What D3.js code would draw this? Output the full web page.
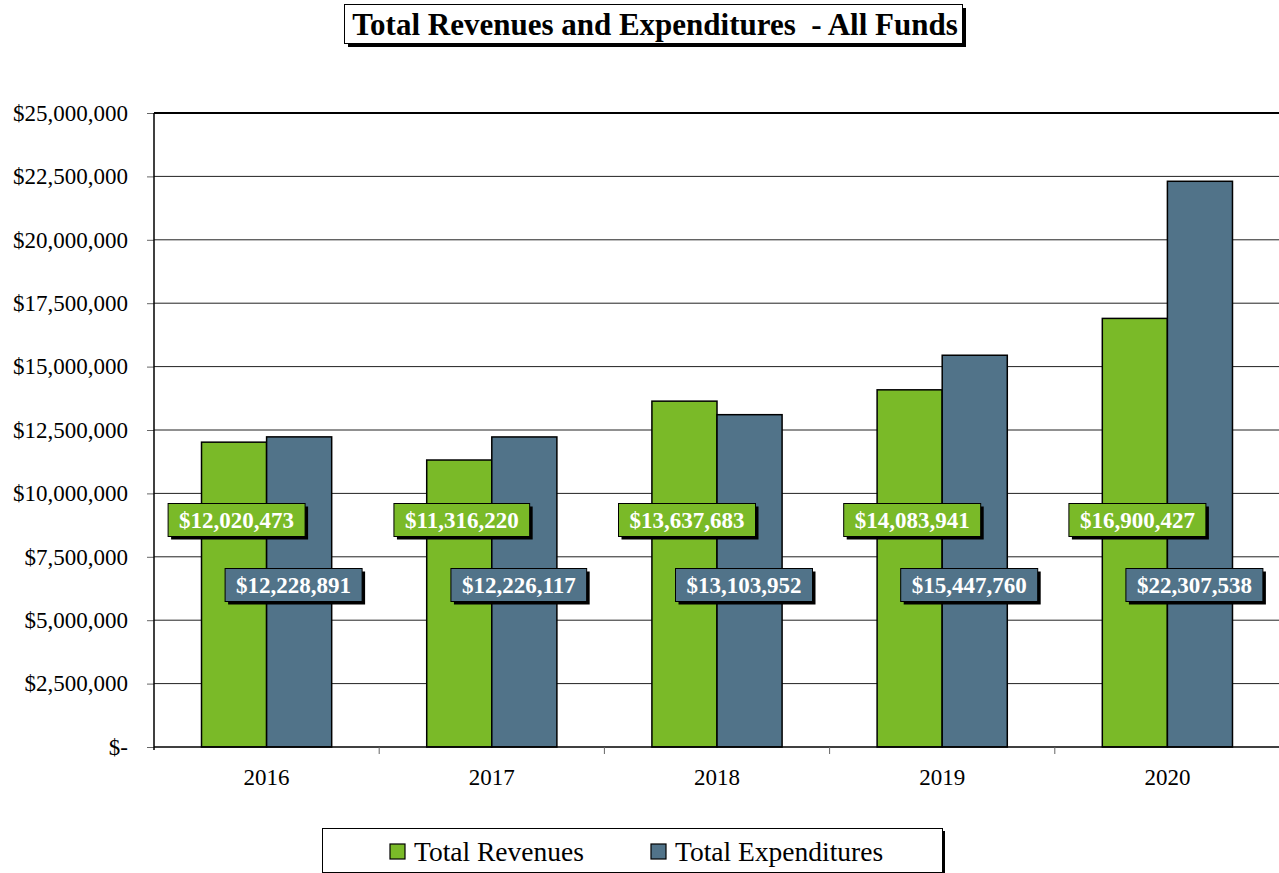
<!DOCTYPE html>
<html lang="en">
  <head>
    <meta charset="UTF-8" />
    <title>Total Revenues and Expenditures - All Funds</title>
    <script src="https://d3js.org/d3.v7.min.js"></script>
    <style>
      body { margin: 0; background: white; }
      svg { display: block; font-family: "Liberation Serif", "Times New Roman", serif; }
    </style>
  </head>
  <body>
    <div id="chart"></div>
    <script>
      // ----------- Data ----------- //
      var years = ["2016", "2017", "2018", "2019", "2020"];
      var revenues = [12020473, 11316220, 13637683, 14083941, 16900427];
      var expenditures = [12228891, 12226117, 13103952, 15447760, 22307538];
      var seriesNames = ["Total Revenues", "Total Expenditures"];
      var yTicks = [0, 2500000, 5000000, 7500000, 10000000, 12500000, 15000000, 17500000, 20000000, 22500000, 25000000];

      var colors = ["#7aba28", "#517389"];

      // ----------- Layout ----------- //
      var width = 1279, height = 873;
      var plotLeft = 154, plotRight = 1280, plotTop = 113, plotBottom = 747;

      var svg = d3.select("#chart").append("svg")
        .attr("width", width)
        .attr("height", height);

      var x = d3.scaleBand().domain(years).range([plotLeft, plotRight]).paddingInner(0).paddingOuter(0);
      var y = d3.scaleLinear().domain([0, 25000000]).range([plotBottom, plotTop]);

      var fmt = d3.format(",");

      // ----------- Grid ----------- //
      svg.append("g").selectAll("line")
        .data(yTicks.slice(1))
        .enter().append("line")
        .attr("x1", plotLeft).attr("x2", plotRight)
        .attr("y1", d => y(d)).attr("y2", d => y(d))
        .attr("stroke", d => d === 25000000 ? "#000" : "#222")
        .attr("stroke-width", d => d === 25000000 ? 2 : 1);

      // ----------- Y Axis ----------- //
      var yAxis = d3.axisLeft(y)
        .tickValues(yTicks)
        .tickSize(7)
        .tickPadding(19)
        .tickFormat(d => d === 0 ? "$-" : "$" + fmt(d));

      var yg = svg.append("g")
        .attr("transform", "translate(" + plotLeft + ",0)")
        .call(yAxis);
      yg.select(".domain").remove();
      yg.selectAll(".tick line").attr("stroke", "#666");
      yg.selectAll(".tick text")
        .attr("font-size", 23)
        .attr("font-family", "Liberation Serif")
        .attr("fill", "#000");

      svg.append("line")
        .attr("x1", plotLeft).attr("x2", plotLeft)
        .attr("y1", plotTop).attr("y2", plotBottom + 3)
        .attr("stroke", "#000").attr("stroke-width", 1.5);

      // ----------- Bars ----------- //
      var inner = d3.scaleBand().domain([0, 1]).range([0, x.bandwidth()]).paddingOuter(0.73).paddingInner(0);

      var groups = svg.append("g").selectAll("g")
        .data(years)
        .enter().append("g")
        .attr("transform", d => "translate(" + x(d) + ",0)");

      groups.selectAll("rect")
        .data((d, i) => [revenues[i], expenditures[i]])
        .enter().append("rect")
        .attr("x", (d, j) => inner(j))
        .attr("y", d => y(d))
        .attr("width", inner.bandwidth())
        .attr("height", d => plotBottom - y(d))
        .attr("fill", (d, j) => colors[j])
        .attr("stroke", "#000")
        .attr("stroke-width", 1.5);

      // ----------- X Axis ----------- //
      svg.append("line")
        .attr("x1", plotLeft).attr("x2", plotRight)
        .attr("y1", plotBottom).attr("y2", plotBottom)
        .attr("stroke", "#000").attr("stroke-width", 1.5);

      svg.append("g").selectAll("line")
        .data(years.slice(1))
        .enter().append("line")
        .attr("x1", d => x(d)).attr("x2", d => x(d))
        .attr("y1", plotBottom).attr("y2", plotBottom + 7)
        .attr("stroke", "#666");

      svg.append("g").selectAll("text")
        .data(years)
        .enter().append("text")
        .attr("x", d => x(d) + x.bandwidth() / 2)
        .attr("y", plotBottom + 38)
        .attr("text-anchor", "middle")
        .attr("font-size", 23)
        .text(d => d);

      // ----------- Data labels ----------- //
      var labelY = [520, 585];
      var labelOffset = [-30, 27];

      function drawLabel(cx, cy, text, fill) {
        var g = svg.append("g");
        var t = g.append("text")
          .attr("x", cx).attr("y", cy + 8)
          .attr("text-anchor", "middle")
          .attr("font-size", 23)
          .attr("font-weight", "bold")
          .attr("fill", "#fff")
          .text(text);
        var bb = t.node().getBBox();
        var w = bb.width + 22, h = 33;
        g.insert("rect", "text")
          .attr("x", cx - w / 2 + 3).attr("y", cy - h / 2 + 3)
          .attr("width", w).attr("height", h)
          .attr("fill", "#000");
        g.insert("rect", "text")
          .attr("x", cx - w / 2).attr("y", cy - h / 2)
          .attr("width", w).attr("height", h)
          .attr("fill", fill)
          .attr("stroke", "#000").attr("stroke-width", 1);
      }

      years.forEach(function(yr, i) {
        var cx = x(yr) + x.bandwidth() / 2;
        drawLabel(cx + labelOffset[0], labelY[0], "$" + fmt(revenues[i]), colors[0]);
        drawLabel(cx + labelOffset[1], labelY[1], "$" + fmt(expenditures[i]), colors[1]);
      });

      // ----------- Title ----------- //
      svg.append("rect").attr("x", 348).attr("y", 8).attr("width", 618).attr("height", 39).attr("fill", "#000");
      svg.append("rect").attr("x", 344.5).attr("y", 4.5).attr("width", 618).attr("height", 39)
        .attr("fill", "#fff").attr("stroke", "#000").attr("stroke-width", 1);
      svg.append("text")
        .attr("x", 655).attr("y", 35)
        .attr("text-anchor", "middle")
        .attr("font-size", 31)
        .attr("font-weight", "bold")
        .attr("xml:space", "preserve")
        .style("white-space", "pre")
        .text("Total Revenues and Expenditures  - All Funds");

      // ----------- Legend ----------- //
      svg.append("rect").attr("x", 325).attr("y", 831).attr("width", 620).attr("height", 44).attr("fill", "#000");
      svg.append("rect").attr("x", 322.5).attr("y", 828.5).attr("width", 620).attr("height", 44)
        .attr("fill", "#fff").attr("stroke", "#000").attr("stroke-width", 1);

      var legendX = [390, 651];
      seriesNames.forEach(function(name, j) {
        svg.append("rect")
          .attr("x", legendX[j]).attr("y", 844)
          .attr("width", 15).attr("height", 15)
          .attr("fill", colors[j]).attr("stroke", "#000").attr("stroke-width", 1.2);
        svg.append("text")
          .attr("x", legendX[j] + 24).attr("y", 861)
          .attr("font-size", 27.5)
          .text(name);
      });
    </script>
  </body>
</html>
